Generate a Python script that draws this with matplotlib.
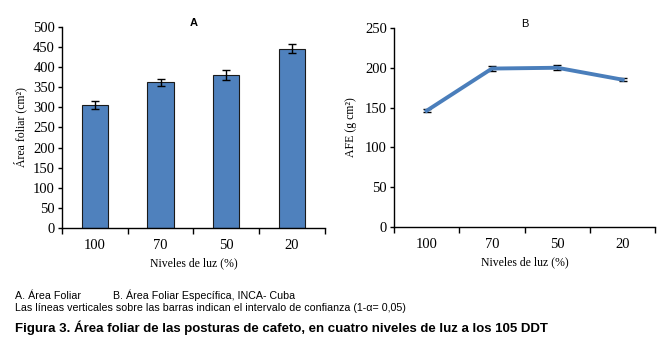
import numpy as np
import matplotlib
matplotlib.use("Agg")
from matplotlib import pyplot as plt

niveles = ["100", "70", "50", "20"]
area_foliar = [307, 362, 381, 446]
area_err = [10, 8, 13, 12]
afe = [146, 199, 200, 185]
afe_err = [2, 3, 3, 2]

serif = "Liberation Serif"
sans = "Liberation Sans"

fig = plt.figure(figsize=(6.7, 3.45), dpi=100)

def style_axes(ax, ymax, step):
    x = np.arange(len(niveles))
    ax.set_xlim(-0.5, len(niveles) - 0.5)
    ax.set_ylim(0, ymax)
    ax.set_yticks(np.arange(0, ymax + 1, step))
    # category boundaries get the tick marks, labels sit in between
    ax.set_xticks(np.arange(-0.5, len(niveles) + 0.5, 1))
    ax.set_xticklabels([])
    ax.set_xticks(x, minor=True)
    ax.set_xticklabels(niveles, minor=True, fontfamily=serif, fontsize=10.5)
    ax.tick_params(axis="x", which="minor", length=0, pad=8)
    ax.tick_params(axis="x", which="major", length=4, width=1, direction="out")
    ax.tick_params(axis="y", length=3, width=1, direction="out", pad=2)
    for lab in ax.get_yticklabels():
        lab.set_fontfamily(serif)
        lab.set_fontsize(10.5)
    ax.spines["top"].set_visible(False)
    ax.spines["right"].set_visible(False)
    ax.spines["left"].set_linewidth(1)
    ax.spines["bottom"].set_linewidth(1)
    ax.set_xlabel("Niveles de luz (%)", fontfamily=serif, fontsize=8.5, labelpad=4)

# A
ax1 = fig.add_axes([0.0925, 0.339, 0.3925, 0.583])
x = np.arange(len(niveles))
ax1.bar(x, area_foliar, width=0.4, color="#4f81bd", edgecolor="#1a1a1a", linewidth=0.8,
        yerr=area_err, capsize=3, error_kw=dict(elinewidth=1, capthick=1, ecolor="black"))
style_axes(ax1, 500, 50)
ax1.set_ylabel("Área foliar (cm²)", fontfamily=serif, fontsize=8.5, labelpad=4)
ax1.text(0.5, 1.02, "A", transform=ax1.transAxes, ha="center", va="center",
         fontfamily=sans, fontweight="bold", fontsize=8)

# B
ax2 = fig.add_axes([0.588, 0.342, 0.39, 0.577])
ax2.errorbar(x, afe, yerr=afe_err, color="#4a7ebb", linewidth=2.8, ecolor="black",
             elinewidth=1, capsize=3, capthick=1)
style_axes(ax2, 250, 50)
ax2.set_ylabel("AFE (g cm²)", fontfamily=serif, fontsize=8.5, labelpad=6)
ax2.text(0.5, 1.02, "B", transform=ax2.transAxes, ha="center", va="center",
         fontfamily=sans, fontsize=8)

fig.text(15 / 670, 1 - 299 / 345, "A. Área Foliar", fontfamily=sans, fontsize=7.7, va="baseline")
fig.text(113 / 670, 1 - 299 / 345, "B. Área Foliar Específica, INCA- Cuba", fontfamily=sans,
         fontsize=7.7, va="baseline")
fig.text(15 / 670, 1 - 311 / 345,
         "Las líneas verticales sobre las barras indican el intervalo de confianza (1-α= 0,05)",
         fontfamily=sans, fontsize=7.7, va="baseline")
fig.text(15 / 670, 1 - 332 / 345,
         "Figura 3. Área foliar de las posturas de cafeto, en cuatro niveles de luz a los 105 DDT",
         fontfamily=sans, fontsize=9.5, fontweight="bold", va="baseline")

fig.savefig("out.png", dpi=100)
